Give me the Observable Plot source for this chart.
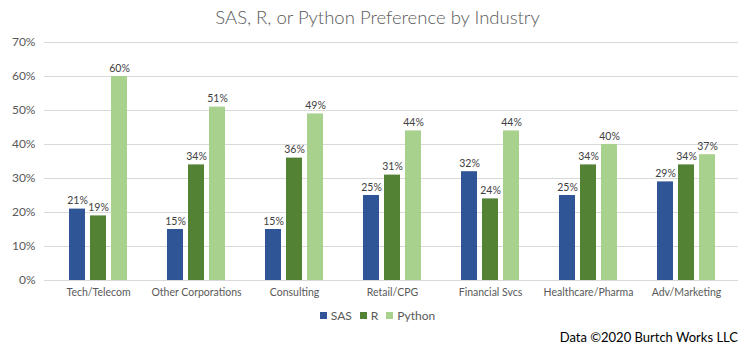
<!DOCTYPE html>
<html>
<head>
<meta charset="utf-8">
<script src="https://cdn.jsdelivr.net/npm/d3@7"></script>
<script src="https://cdn.jsdelivr.net/npm/@observablehq/plot@0.6"></script>
<style>
  body { margin: 0; background: #fff; font-family: Lato, "Open Sans", sans-serif; }
  #wrap { width: 755px; height: 357px; position: relative; overflow: hidden; }
  #title { position: absolute; top: 6px; left: 0; width: 755px; text-align: center; font-size: 18.5px; font-weight: 300; color: #595959; }
  #grid, #chart { position: absolute; top: 34px; left: 0; }
  #chart svg { background: transparent !important; }
  #legend { position: absolute; top: 308px; left: 0; width: 755px; display: flex; justify-content: center; font-size: 12px; color: #595959; }
  #legend .item { display: flex; align-items: center; margin: 0 4px; }
  #legend .sw { width: 7px; height: 7px; margin-right: 4px; }
  #caption { position: absolute; top: 329px; right: 17px; font-size: 13px; color: #000; }
</style>
</head>
<body>
<div id="wrap">
  <div id="title">SAS, R, or Python Preference by Industry</div>
  <div id="grid"></div>
  <div id="chart"></div>
  <div id="legend"></div>
  <div id="caption">Data ©2020 Burtch Works LLC</div>
</div>
<script>
const industries = ["Tech/Telecom", "Other Corporations", "Consulting", "Retail/CPG", "Financial Svcs", "Healthcare/Pharma", "Adv/Marketing"];
const seriesNames = ["SAS", "R", "Python"];
const sasValues = [21, 15, 15, 25, 32, 25, 29];
const rValues = [19, 34, 36, 31, 24, 34, 34];
const pythonValues = [60, 51, 49, 44, 44, 40, 37];
const seriesColors = ["#2F5597", "#548235", "#A9D18E"];
const yTicks = [0, 10, 20, 30, 40, 50, 60, 70];

const valuesBySeries = [sasValues, rValues, pythonValues];
const data = industries.flatMap((ind, i) =>
  seriesNames.map((s, j) => ({industry: ind, series: s, value: valuesBySeries[j][i]}))
);

const common = {
  width: 755,
  height: 272,
  marginLeft: 46,
  marginRight: 17,
  marginTop: 8,
  marginBottom: 26,
  style: {fontFamily: "Lato, 'Open Sans', sans-serif", fontSize: "10.5px", color: "#595959", background: "transparent"}
};

// Background: gridlines and y axis spanning the full plot width
const grid = Plot.plot({
  ...common,
  y: {domain: [0, 70], label: null},
  x: {axis: null},
  marks: [
    Plot.ruleY(yTicks, {stroke: "#d9d9d9", strokeWidth: 1, insetLeft: -2, insetRight: 0}),
    Plot.axisY(yTicks, {tickSize: 0, tickPadding: 11, tickFormat: d => d + "%", fontSize: 12, label: null})
  ]
});
document.getElementById("grid").appendChild(grid);

// Foreground: grouped bars via facets
const chart = Plot.plot({
  ...common,
  fx: {domain: industries, paddingInner: 0.386, paddingOuter: 0.193, label: null, axis: "bottom", tickSize: 0, tickPadding: 8},
  x: {domain: seriesNames, paddingInner: 0.227, paddingOuter: 0, axis: null},
  y: {domain: [0, 70], axis: null},
  color: {domain: seriesNames, range: seriesColors},
  marks: [
    Plot.barY(data, {fx: "industry", x: "series", y: "value", fill: "series"}),
    Plot.text(data, {fx: "industry", x: "series", y: "value", text: d => d.value + "%", dy: -8, fill: "#404040", fontSize: 10.5})
  ]
});
document.getElementById("chart").appendChild(chart);

const legend = document.getElementById("legend");
seriesNames.forEach((s, i) => {
  const item = document.createElement("div");
  item.className = "item";
  const sw = document.createElement("div");
  sw.className = "sw";
  sw.style.background = seriesColors[i];
  item.appendChild(sw);
  const t = document.createElement("span");
  t.textContent = s;
  item.appendChild(t);
  legend.appendChild(item);
});
</script>
</body>
</html>
